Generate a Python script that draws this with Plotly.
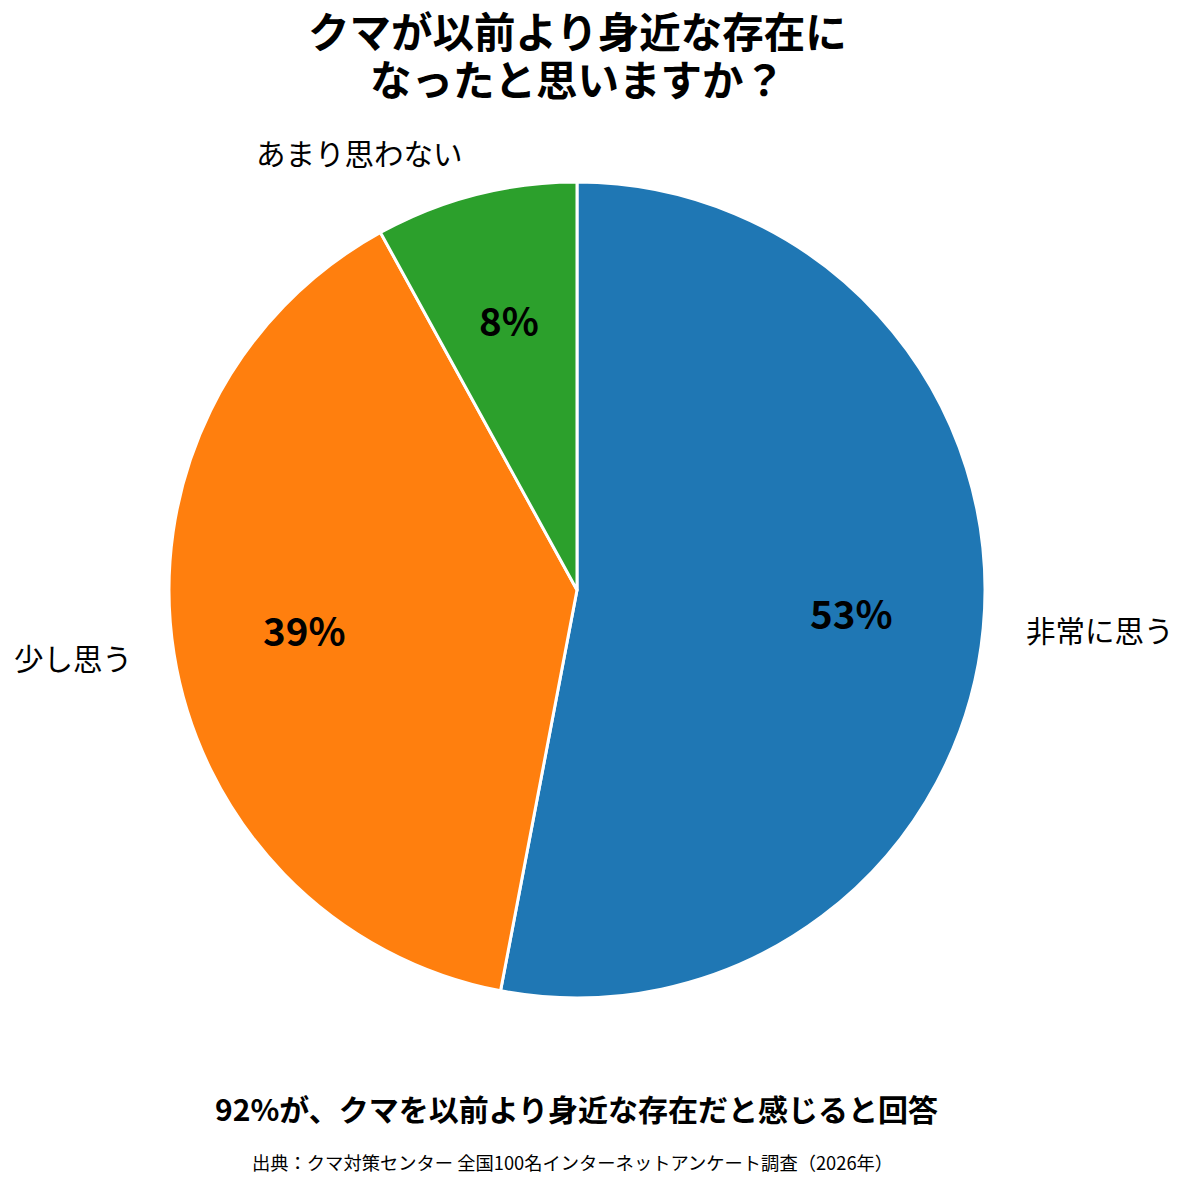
import numpy as np
import plotly.graph_objects as go

# survey answers (clockwise from 12 o'clock)
labels = ["非常に思う", "少し思う", "あまり思わない"]
values = [53, 39, 8]
colors = ["#1f77b4", "#ff7f0e", "#2ca02c"]

title_lines = ["クマが以前より身近な存在に", "なったと思いますか？"]
note_text = "92%が、クマを以前より身近な存在だと感じると回答"
source_text = "出典：クマ対策センター 全国100名インターネットアンケート調査（2026年）"

W, H = 1188, 1183
OFF = 8                      # page body margin
cx, cy, R = 577 - OFF, 590 - OFF, 408   # pie centre / radius in px
FONT = "Noto Sans CJK JP"

fig = go.Figure(go.Pie(
    labels=labels,
    values=values,
    sort=False,
    direction="clockwise",
    rotation=0,
    marker=dict(colors=colors, line=dict(color="white", width=3)),
    textinfo="none",
    hoverinfo="label+percent",
    showlegend=False,
    domain=dict(x=[(cx - R) / W, (cx + R) / W],
                y=[1 - (cy + R) / H, 1 - (cy - R) / H]),
))

# label / percent positions worked out from the slice angles
total = float(sum(values))
cum = np.cumsum(values)
annots = []
for lab, v, c in zip(labels, values, cum):
    mid = (c - v / 2) / total * 2 * np.pi
    sx, sy = np.sin(mid), np.cos(mid)
    annots.append(dict(
        x=cx / W, y=1 - cy / H, xref="paper", yref="paper",
        xshift=1.1 * R * sx, yshift=1.1 * R * sy + 3,
        text=lab, showarrow=False,
        xanchor="left" if sx > 0 else "right", yanchor="middle",
        font=dict(family=FONT, size=29.5, color="black"),
    ))
    annots.append(dict(
        x=cx / W, y=1 - cy / H, xref="paper", yref="paper",
        xshift=0.675 * R * sx, yshift=0.675 * R * sy + 4,
        text=f"<b>{v / total * 100:.0f}%</b>", showarrow=False,
        xanchor="center", yanchor="middle",
        font=dict(family=FONT, size=38.5, color="black"),
    ))

# two-line title (boxes kept short so the lines sit 48px apart)
for line, ty in zip(title_lines, [30, 78]):
    annots.append(dict(
        x=(577 - OFF) / W, y=1 - (ty - OFF) / H, xref="paper", yref="paper",
        text=f"<b>{line}</b>", showarrow=False,
        xanchor="center", yanchor="middle", height=44, valign="middle",
        font=dict(family=FONT, size=41.5, color="black"),
    ))

annots.append(dict(
    x=(576 - OFF) / W, y=1 - (1108 - OFF) / H, xref="paper", yref="paper",
    text=f"<b>{note_text}</b>", showarrow=False,
    xanchor="center", yanchor="middle",
    font=dict(family=FONT, size=30, color="black"),
))
annots.append(dict(
    x=(572 - OFF) / W, y=1 - (1162 - OFF) / H, xref="paper", yref="paper",
    text=source_text, showarrow=False,
    xanchor="center", yanchor="middle",
    font=dict(family=FONT, size=18.3, color="black"),
))

fig.update_layout(
    width=W, height=H,
    margin=dict(l=0, r=0, t=0, b=0),
    paper_bgcolor="white",
    plot_bgcolor="white",
    annotations=annots,
)

fig.write_html("out.html")
